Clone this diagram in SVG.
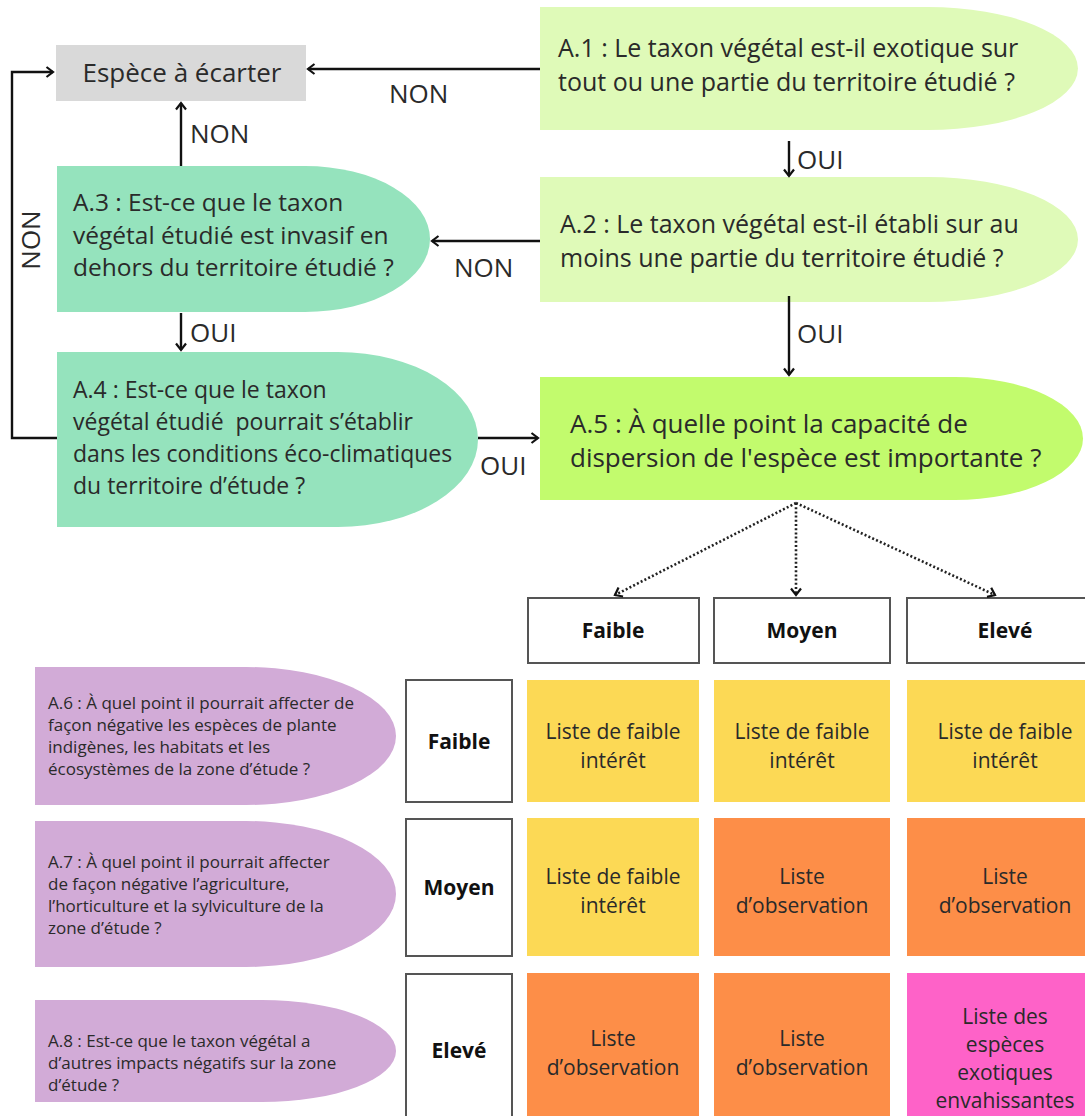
<svg xmlns="http://www.w3.org/2000/svg" width="1085" height="1116" viewBox="0 0 1085 1116">
  <style>
    text { font-family: "Open Sans", "Noto Sans", "DejaVu Sans", sans-serif; fill: #2a2a2a; }
    .q-top { font-size: 25px; }
    .q-a3 { font-size: 24.5px; }
    .q-a4 { font-size: 23px; }
    .q-a5 { font-size: 26px; }
    .lbl { font-size: 26px; }
    .small { font-size: 17px; }
    .cell { font-size: 21px; text-anchor: middle; }
    .hd { font-size: 21px; font-weight: bold; text-anchor: middle; fill: #111; }
    .wire { fill: none; stroke: #111; stroke-width: 2.4; }
    .dot { fill: none; stroke: #222; stroke-width: 2.6; stroke-dasharray: 2 2.2; }
    .frame { fill: #fff; stroke: #555; stroke-width: 2; }
    .light { fill: #dffab8; }
    .mint { fill: #95e3bd; }
    .lime { fill: #c2fb6d; }
    .lilac { fill: #d2abd7; }
    .yel { fill: #fcd955; }
    .ora { fill: #fd8e48; }
    .pink { fill: #fe62c8; }
  </style>
  <defs>
    <marker id="head" viewBox="-9 -7 12 14" markerWidth="12" markerHeight="14" refX="0" refY="0" orient="auto" markerUnits="userSpaceOnUse">
      <path d="M-6.5,-5 L0,0 L-6.5,5" fill="none" stroke="#111" stroke-width="2.2"/>
    </marker>
  </defs>

  <rect width="1085" height="1116" fill="#fff"/>

  <!-- terminal box -->
  <g id="ecarter">
    <rect x="56" y="45" width="250" height="56" fill="#d9d9d9"/>
    <text class="lbl" x="182" y="82" text-anchor="middle">Espèce à écarter</text>
  </g>

  <!-- questions -->
  <g id="a1">
    <path class="light" d="M540,7 H928 A150,61.5 0 0 1 928,130 H540 Z"/>
    <text class="q-top"><tspan x="558" y="57">A.1 : Le taxon végétal est-il exotique sur</tspan><tspan x="558" y="91">tout ou une partie du territoire étudié ?</tspan></text>
  </g>
  <g id="a2">
    <path class="light" d="M540,177 H928 A150,62.5 0 0 1 928,302 H540 Z"/>
    <text class="q-top"><tspan x="560" y="233">A.2 : Le taxon végétal est-il établi sur au</tspan><tspan x="560" y="267">moins une partie du territoire étudié ?</tspan></text>
  </g>
  <g id="a3">
    <path class="mint" d="M57,166 H305 A125,73 0 0 1 305,312 H57 Z"/>
    <text class="q-a3"><tspan x="73" y="211">A.3 : Est-ce que le taxon</tspan><tspan x="73" y="244">végétal étudié est invasif en</tspan><tspan x="73" y="276">dehors du territoire étudié ?</tspan></text>
  </g>
  <g id="a4">
    <path class="mint" d="M57,352 H338 A140,87.5 0 0 1 338,527 H57 Z"/>
    <text class="q-a4" xml:space="preserve"><tspan x="73" y="398">A.4 : Est-ce que le taxon</tspan><tspan x="73" y="430">végétal étudié  pourrait s’établir</tspan><tspan x="73" y="462">dans les conditions éco-climatiques</tspan><tspan x="73" y="494">du territoire d’étude ?</tspan></text>
  </g>
  <g id="a5">
    <path class="lime" d="M540,377 H955 A128,61.5 0 0 1 955,500 H540 Z"/>
    <text class="q-a5"><tspan x="570" y="433">A.5 : À quelle point la capacité de</tspan><tspan x="570" y="467">dispersion de l'espèce est importante ?</tspan></text>
  </g>

  <!-- impact questions -->
  <g id="a6">
    <path class="lilac" d="M35,667 H246 A150,69 0 0 1 246,805 H35 Z"/>
    <text class="small"><tspan x="48" y="709">A.6 : À quel point il pourrait affecter de</tspan><tspan x="48" y="731">façon négative les espèces de plante</tspan><tspan x="48" y="753">indigènes, les habitats et les</tspan><tspan x="48" y="775">écosystèmes de la zone d’étude ?</tspan></text>
  </g>
  <g id="a7">
    <path class="lilac" d="M35,821 H246 A150,73 0 0 1 246,967 H35 Z"/>
    <text class="small"><tspan x="48" y="868">A.7 : À quel point il pourrait affecter</tspan><tspan x="48" y="890">de façon négative l’agriculture,</tspan><tspan x="48" y="912">l’horticulture et la sylviculture de la</tspan><tspan x="48" y="934">zone d’étude ?</tspan></text>
  </g>
  <g id="a8">
    <path class="lilac" d="M35,1000 H262 A134,51 0 0 1 262,1102 H35 Z"/>
    <text class="small"><tspan x="48" y="1047">A.8 : Est-ce que le taxon végétal a</tspan><tspan x="48" y="1069">d’autres impacts négatifs sur la zone</tspan><tspan x="48" y="1091">d’étude ?</tspan></text>
  </g>

  <!-- column headers -->
  <g id="col-faible">
    <rect class="frame" x="528" y="598" width="171" height="65"/>
    <text class="hd" x="613" y="638">Faible</text>
  </g>
  <g id="col-moyen">
    <rect class="frame" x="714" y="598" width="176" height="65"/>
    <text class="hd" x="802" y="638">Moyen</text>
  </g>
  <g id="col-eleve">
    <rect class="frame" x="907" y="598" width="196" height="65"/>
    <text class="hd" x="1005" y="638">Elevé</text>
  </g>

  <!-- row headers -->
  <g id="row-faible">
    <rect class="frame" x="406" y="680" width="106" height="122"/>
    <text class="hd" x="459" y="749">Faible</text>
  </g>
  <g id="row-moyen">
    <rect class="frame" x="406" y="819" width="106" height="137"/>
    <text class="hd" x="459" y="895">Moyen</text>
  </g>
  <g id="row-eleve">
    <rect class="frame" x="406" y="974" width="106" height="160"/>
    <text class="hd" x="459" y="1058">Elevé</text>
  </g>

  <!-- result grid -->
  <g id="r1c1"><rect class="yel" x="527" y="680" width="172" height="122"/><text class="cell"><tspan x="613" y="739">Liste de faible</tspan><tspan x="613" y="768">intérêt</tspan></text></g>
  <g id="r1c2"><rect class="yel" x="714" y="680" width="176" height="122"/><text class="cell"><tspan x="802" y="739">Liste de faible</tspan><tspan x="802" y="768">intérêt</tspan></text></g>
  <g id="r1c3"><rect class="yel" x="907" y="680" width="196" height="122"/><text class="cell"><tspan x="1005" y="739">Liste de faible</tspan><tspan x="1005" y="768">intérêt</tspan></text></g>

  <g id="r2c1"><rect class="yel" x="527" y="818" width="172" height="138"/><text class="cell"><tspan x="613" y="884">Liste de faible</tspan><tspan x="613" y="913">intérêt</tspan></text></g>
  <g id="r2c2"><rect class="ora" x="714" y="818" width="176" height="138"/><text class="cell"><tspan x="802" y="884">Liste</tspan><tspan x="802" y="913">d’observation</tspan></text></g>
  <g id="r2c3"><rect class="ora" x="907" y="818" width="196" height="138"/><text class="cell"><tspan x="1005" y="884">Liste</tspan><tspan x="1005" y="913">d’observation</tspan></text></g>

  <g id="r3c1"><rect class="ora" x="527" y="973" width="172" height="160"/><text class="cell"><tspan x="613" y="1046">Liste</tspan><tspan x="613" y="1075">d’observation</tspan></text></g>
  <g id="r3c2"><rect class="ora" x="714" y="973" width="176" height="160"/><text class="cell"><tspan x="802" y="1046">Liste</tspan><tspan x="802" y="1075">d’observation</tspan></text></g>
  <g id="r3c3"><rect class="pink" x="907" y="973" width="196" height="160"/><text class="cell"><tspan x="1005" y="1024">Liste des</tspan><tspan x="1005" y="1052">espèces</tspan><tspan x="1005" y="1080">exotiques</tspan><tspan x="1005" y="1108">envahissantes</tspan></text></g>

  <!-- connectors -->
  <g id="connectors">
    <path class="wire" d="M540,69 H308" marker-end="url(#head)"/>
    <path class="wire" d="M789,141 V176" marker-end="url(#head)"/>
    <path class="wire" d="M540,241 H432" marker-end="url(#head)"/>
    <path class="wire" d="M181,166 V103" marker-end="url(#head)"/>
    <path class="wire" d="M181,313 V350" marker-end="url(#head)"/>
    <path class="wire" d="M57,438 H12 V72 H53" marker-end="url(#head)"/>
    <path class="wire" d="M789,296 V375" marker-end="url(#head)"/>
    <path class="wire" d="M478,438 H538" marker-end="url(#head)"/>
    <path class="dot" d="M796,503 L615,595" marker-end="url(#head)"/>
    <path class="dot" d="M796,503 V595" marker-end="url(#head)"/>
    <path class="dot" d="M796,503 L995,595" marker-end="url(#head)"/>

    <text class="lbl" x="389" y="103">NON</text>
    <text class="lbl" x="190" y="143">NON</text>
    <text class="lbl" transform="translate(40,240) rotate(-90)" text-anchor="middle">NON</text>
    <text class="lbl" x="454" y="277">NON</text>
    <text class="lbl" x="797" y="169">OUI</text>
    <text class="lbl" x="190" y="342">OUI</text>
    <text class="lbl" x="797" y="343">OUI</text>
    <text class="lbl" x="480" y="475">OUI</text>
  </g>
</svg>
